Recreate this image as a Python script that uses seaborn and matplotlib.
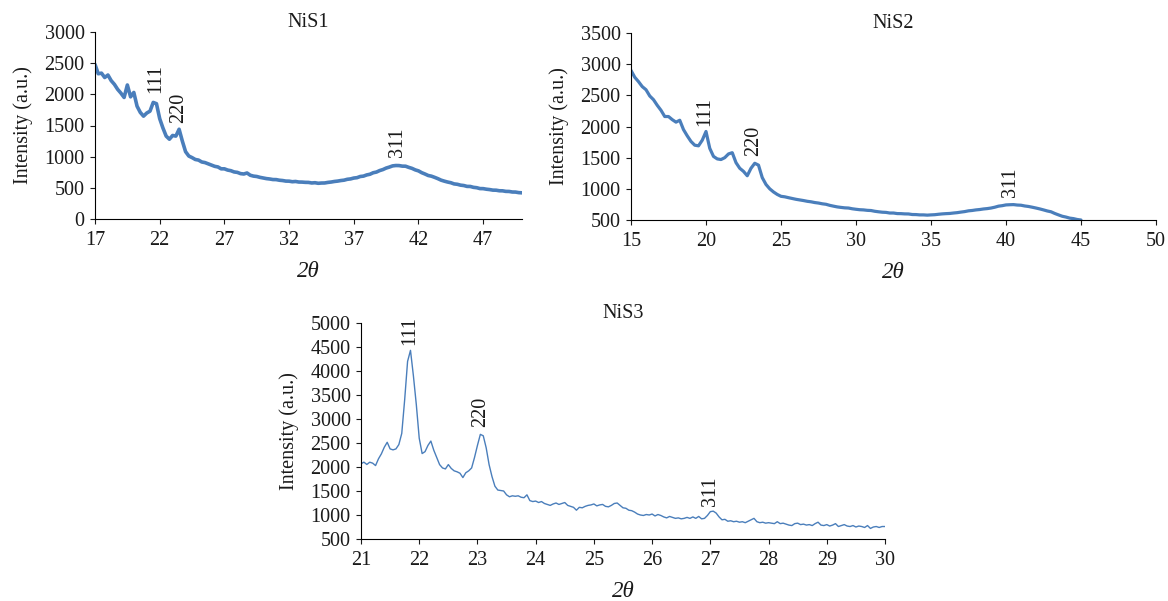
import numpy as np
import pandas as pd
import matplotlib
matplotlib.use("Agg")
import matplotlib.pyplot as plt
import seaborn as sns

# XRD patterns
# NiS1: 2theta from 17 to 50, step 0.25
nis1_start, nis1_step = 17.0, 0.25
nis1_y = [
    2480, 2330, 2340, 2270,
    2310, 2220, 2160, 2080,
    2020, 1950, 2150, 1960,
    2030, 1810, 1710, 1650,
    1700, 1730, 1870, 1850,
    1610, 1460, 1330, 1280,
    1340, 1330, 1440, 1250,
    1080, 1010, 985, 955,
    945, 915, 905, 885,
    865, 845, 835, 805,
    805, 785, 775, 755,
    748, 728, 722, 738,
    702, 688, 682, 668,
    658, 648, 642, 633,
    632, 622, 617, 608,
    607, 598, 602, 593,
    592, 588, 587, 578,
    582, 573, 577, 578,
    587, 593, 602, 608,
    617, 623, 637, 643,
    657, 663, 682, 688,
    707, 718, 742, 753,
    777, 793, 817, 833,
    852, 858, 857, 848,
    847, 828, 812, 788,
    772, 743, 722, 698,
    687, 668, 647, 623,
    607, 593, 582, 563,
    557, 543, 537, 523,
    522, 508, 502, 488,
    487, 478, 472, 463,
    462, 453, 452, 443,
    442, 433, 432, 423,
    420,
]

# NiS2: 2theta from 15 to 45, step 0.25
nis2_start, nis2_step = 15.0, 0.25
nis2_y = [
    2900, 2790, 2720, 2640,
    2590, 2490, 2430, 2340,
    2260, 2160, 2160, 2110,
    2070, 2100, 1950, 1850,
    1760, 1700, 1690, 1780,
    1920, 1650, 1520, 1480,
    1470, 1500, 1560, 1580,
    1420, 1330, 1280, 1210,
    1330, 1410, 1380, 1180,
    1070, 1000, 950, 910,
    880, 872, 858, 845,
    832, 822, 812, 800,
    792, 780, 772, 760,
    752, 735, 722, 710,
    702, 695, 692, 680,
    672, 665, 662, 655,
    652, 640, 632, 625,
    622, 612, 612, 603,
    602, 598, 597, 588,
    587, 582, 582, 578,
    582, 585, 592, 598,
    602, 605, 612, 618,
    627, 635, 647, 653,
    662, 668, 677, 683,
    692, 705, 722, 730,
    742, 745, 747, 740,
    737, 725, 717, 705,
    692, 678, 662, 645,
    632, 605, 582, 560,
    547, 530, 522, 508,
    500,
]

# NiS3: 2theta from 21 to 30, step 0.05
nis3_start, nis3_step = 21.0, 0.05
nis3_y = [
    2067, 2101, 2053, 2100, 2080, 2030, 2170, 2274, 2412, 2515,
    2377, 2357, 2377, 2467, 2700, 3400, 4200, 4430, 3900, 3300,
    2600, 2280, 2320, 2450, 2540, 2350, 2200, 2050, 1980, 1960,
    2050, 1970, 1920, 1900, 1870, 1780, 1880, 1920, 1980, 2200,
    2450, 2680, 2650, 2400, 2050, 1800, 1600, 1520, 1510, 1500,
    1420, 1380, 1400, 1390, 1400, 1370, 1360, 1420, 1300, 1280,
    1290, 1260, 1280, 1240, 1220, 1200, 1230, 1250, 1220, 1240,
    1260, 1200, 1180, 1160, 1100, 1160, 1150, 1180, 1200, 1210,
    1230, 1190, 1210, 1220, 1180, 1170, 1200, 1240, 1250, 1200,
    1150, 1140, 1100, 1090, 1060, 1020, 1000, 990, 1010, 1000,
    1020, 980, 1010, 990, 960, 940, 970, 950, 930, 940,
    920, 930, 950, 930, 960, 930, 970, 920, 930, 990,
    1070, 1080, 1040, 960, 900, 910, 870, 880, 860, 870,
    850, 860, 840, 870, 900, 930, 860, 840, 850, 830,
    840, 830, 820, 860, 820, 830, 810, 790, 780, 820,
    830, 800, 810, 790, 800, 780, 820, 850, 790, 780,
    800, 770, 790, 820, 760, 780, 800, 770, 760, 780,
    750, 770, 760, 740, 780, 720, 750, 760, 740, 760,
    760,
]

# peak labels: (text, 2theta, intensity at the bottom of the label)
nis1_peaks = [("111", 21.7, 2020), ("220", 23.5, 1540), ("311", 40.4, 990)]
nis2_peaks = [("111", 19.9, 2010), ("220", 23.2, 1530), ("311", 40.3, 870)]
nis3_peaks = [("111", 21.83, 4550), ("220", 23.05, 2830), ("311", 27.01, 1180)]

titles = ["NiS1", "NiS2", "NiS3"]
x_ticks = [np.arange(17, 48, 5), np.arange(15, 51, 5), np.arange(21, 31, 1)]
y_ticks = [np.arange(0, 3001, 500), np.arange(500, 3501, 500), np.arange(500, 5001, 500)]
x_lims = [(17, 50), (15, 50), (21, 30)]
y_lims = [(0, 3000), (500, 3500), (500, 5000)]


def make_frame(start, step, values):
    x = start + step * np.arange(len(values))
    return pd.DataFrame({"two_theta": x, "intensity": values})


sns.set_theme(style="ticks")
plt.rcParams["font.family"] = ["Liberation Serif", "DejaVu Serif"]
plt.rcParams["axes.linewidth"] = 0.8

blue = "#4a7ebb"
fs = 14.5
txt = "#1a1a1a"

fig = plt.figure(figsize=(11.68, 6.01), dpi=100)
ax1 = fig.add_axes([95 / 1168, 1 - 219 / 601, 427 / 1168, 187 / 601])
ax2 = fig.add_axes([631 / 1168, 1 - 220 / 601, 525 / 1168, 187 / 601])
ax3 = fig.add_axes([361 / 1168, 1 - 539 / 601, 524 / 1168, 216 / 601])

frames = [make_frame(nis1_start, nis1_step, nis1_y),
          make_frame(nis2_start, nis2_step, nis2_y),
          make_frame(nis3_start, nis3_step, nis3_y)]
peaks = [nis1_peaks, nis2_peaks, nis3_peaks]
widths = [2.6, 2.3, 1.0]

for i, ax in enumerate([ax1, ax2, ax3]):
    sns.lineplot(data=frames[i], x="two_theta", y="intensity", ax=ax,
                 color=blue, linewidth=widths[i], estimator=None, sort=False)
    ax.set_xlim(*x_lims[i])
    ax.set_ylim(*y_lims[i])
    ax.set_xticks(x_ticks[i])
    ax.set_yticks(y_ticks[i])
    ax.tick_params(axis="x", direction="out", length=3.5, width=0.8, pad=5,
                   labelsize=fs, colors=txt)
    ax.tick_params(axis="y", direction="out", length=3.5, width=0.8, pad=4,
                   labelsize=fs, colors=txt)
    for side in ["left", "bottom"]:
        ax.spines[side].set_color("black")
    sns.despine(ax=ax)
    ax.set_xlabel("2θ", fontsize=fs + 2, style="italic", labelpad=8, color=txt)
    ax.set_ylabel("Intensity (a.u.)", fontsize=fs, labelpad=8, color=txt)
    ax.set_title(titles[i], fontsize=fs, pad=2, color=txt)
    ax.set_facecolor("white")
    for label, px, py in peaks[i]:
        ax.text(px, py, label, rotation=90, ha="center", va="bottom",
                fontsize=fs, color=txt)

fig.savefig("out.png", dpi=100, facecolor="white")
